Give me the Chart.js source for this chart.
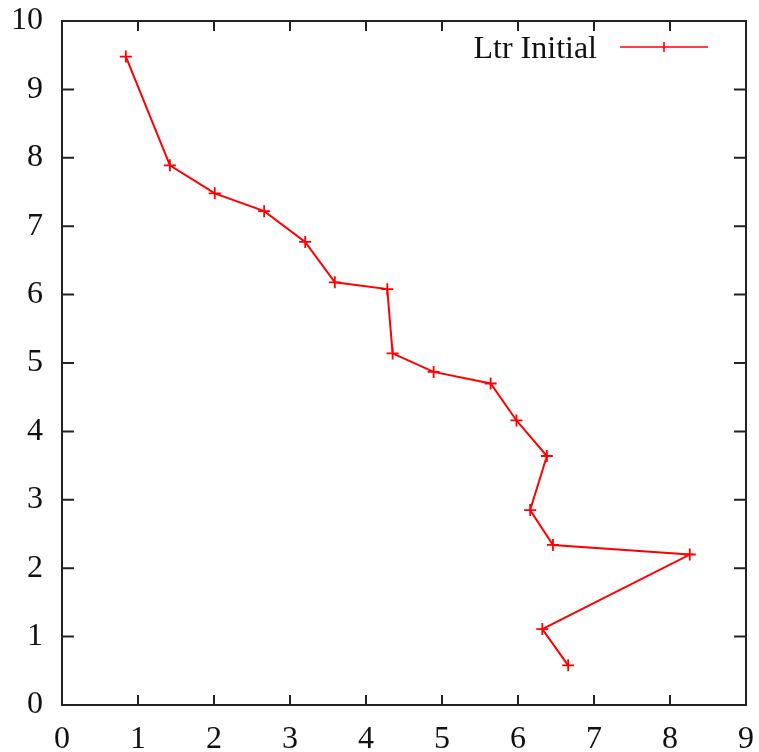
<!DOCTYPE html>
<html>
<head>
<meta charset="utf-8">
<script src="https://cdn.jsdelivr.net/npm/chart.js@4/dist/chart.umd.min.js"></script>
<style>
  html, body { margin: 0; padding: 0; background: #ffffff; }
  #wrap { width: 759px; height: 752px; position: relative; }
</style>
</head>
<body>
<div id="wrap"><canvas id="c" width="759" height="752"></canvas></div>
<script>
const seriesLabel = "Ltr Initial";
const xValues = [0.84, 1.42, 2.01, 2.66, 3.20, 3.59, 4.28, 4.35, 4.89, 5.64, 5.98, 6.38, 6.16, 6.46, 8.26, 6.32, 6.66];
const yValues = [9.48, 7.89, 7.48, 7.22, 6.77, 6.18, 6.08, 5.14, 4.87, 4.70, 4.16, 3.64, 2.85, 2.34, 2.20, 1.11, 0.58];
const xTicks = [0, 1, 2, 3, 4, 5, 6, 7, 8, 9];
const yTicks = [0, 1, 2, 3, 4, 5, 6, 7, 8, 9, 10];

const points = xValues.map((x, i) => ({ x: x, y: yValues[i] }));
const FONT = "'Liberation Serif', 'DejaVu Serif', serif";
const RED = "#ff0000";

const framePlugin = {
  id: 'frame',
  afterDraw(chart) {
    const { ctx, chartArea: a, scales } = chart;
    ctx.save();
    ctx.strokeStyle = '#222';
    ctx.lineWidth = 2;
    ctx.strokeRect(a.left, a.top, a.right - a.left, a.bottom - a.top);
    ctx.beginPath();
    xTicks.forEach(v => {
      const px = scales.x.getPixelForValue(v);
      ctx.moveTo(px, a.bottom); ctx.lineTo(px, a.bottom - 10);
      ctx.moveTo(px, a.top); ctx.lineTo(px, a.top + 10);
    });
    yTicks.forEach(v => {
      const py = scales.y.getPixelForValue(v);
      ctx.moveTo(a.left, py); ctx.lineTo(a.left + 12, py);
      ctx.moveTo(a.right, py); ctx.lineTo(a.right - 12, py);
    });
    ctx.stroke();

    // legend (text left, sample right)
    const ly = a.top + 26;
    ctx.fillStyle = '#111';
    ctx.font = "32px " + FONT;
    ctx.textAlign = 'right';
    ctx.textBaseline = 'middle';
    ctx.fillText(seriesLabel, a.left + 535, ly + 3);
    ctx.strokeStyle = RED;
    ctx.lineWidth = 1.6;
    ctx.beginPath();
    ctx.moveTo(a.left + 558, ly); ctx.lineTo(a.left + 646, ly);
    const cx = a.left + 602;
    ctx.moveTo(cx - 5, ly); ctx.lineTo(cx + 5, ly);
    ctx.moveTo(cx, ly - 5); ctx.lineTo(cx, ly + 5);
    ctx.stroke();
    ctx.restore();
  }
};

new Chart(document.getElementById('c'), {
  type: 'scatter',
  data: {
    datasets: [{
      label: seriesLabel,
      data: points,
      showLine: true,
      borderColor: RED,
      backgroundColor: RED,
      borderWidth: 2,
      pointStyle: 'cross',
      pointRadius: 6,
      pointBorderWidth: 1.8,
      pointBorderColor: RED,
      tension: 0
    }]
  },
  options: {
    responsive: false,
    animation: false,
    devicePixelRatio: 1,
    layout: { padding: { left: 0, right: 13, top: 21, bottom: 0 } },
    plugins: { legend: { display: false }, tooltip: { enabled: false } },
    scales: {
      x: {
        type: 'linear', min: 0, max: 9,
        afterBuildTicks: s => { s.ticks = xTicks.map(v => ({ value: v })); },
        afterFit: s => { s.height = 47; s.paddingLeft = 0; s.paddingRight = 0; },
        grid: { display: false, drawTicks: false },
        border: { display: false },
        ticks: { color: '#111', font: { family: FONT, size: 32 }, padding: 15, maxRotation: 0 }
      },
      y: {
        type: 'linear', min: 0, max: 10,
        afterBuildTicks: s => { s.ticks = yTicks.map(v => ({ value: v })); },
        afterFit: s => { s.width = 62; s.paddingTop = 0; s.paddingBottom = 0; },
        grid: { display: false, drawTicks: false },
        border: { display: false },
        ticks: { color: '#111', font: { family: FONT, size: 32 }, padding: 19 }
      }
    }
  },
  plugins: [framePlugin]
});
</script>
</body>
</html>
